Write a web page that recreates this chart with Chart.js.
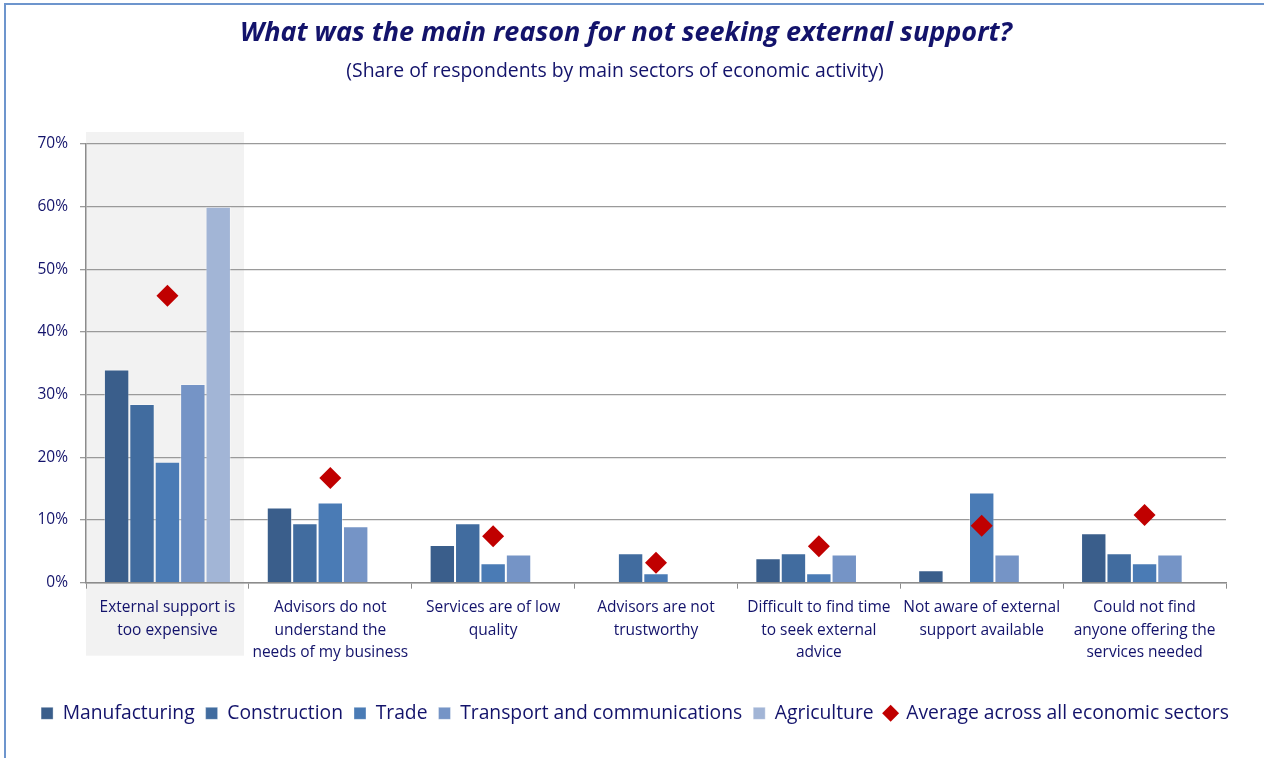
<!DOCTYPE html>
<html>
<head>
<meta charset="utf-8">
<title>Reasons for not seeking external support</title>
<script src="https://cdn.jsdelivr.net/npm/chart.js@4"></script>
<style>
    html, body { margin: 0; padding: 0; background: #fff; overflow: hidden; }
    #wrap { position: absolute; left: 0; top: 0; width: 1264px; height: 758px; }
    #frame {
        position: absolute; left: 4px; top: 3px; width: 1300px; height: 800px;
        border-left: 2px solid #6d95cd; border-top: 2px solid #6d95cd;
        pointer-events: none;
    }
</style>
</head>
<body>
<div id="wrap">
    <canvas id="reasonsChart" width="1264" height="758"></canvas>
    <div id="frame"></div>
</div>
<script>
// Survey data (share of respondents, %)
const reasons = [
    ['External support is', 'too expensive'],
    ['Advisors do not', 'understand the', 'needs of my business'],
    ['Services are of low', 'quality'],
    ['Advisors are not', 'trustworthy'],
    ['Difficult to find time', 'to seek external', 'advice'],
    ['Not aware of external', 'support available'],
    ['Could not find', 'anyone offering the', 'services needed']
];
const manufacturing = [34.0, 12.0, 6.0, null, 3.9, 2.0, 7.9];
const construction  = [28.5, 9.5, 9.5, 4.7, 4.7, null, 4.7];
const trade         = [19.3, 12.8, 3.1, 1.5, 1.5, 14.4, 3.1];
const transport     = [31.7, 9.0, 4.5, null, 4.5, 4.5, 4.5];
const agriculture   = [60.0, null, null, null, null, null, null];
const average       = [45.8, 16.7, 7.4, 3.2, 5.8, 9.1, 10.8];
const yTicks = [0, 10, 20, 30, 40, 50, 60, 70];

const navy = '#13136b';
const font = "'Open Sans', 'Noto Sans', sans-serif";

// Grey panel behind the first category
const highlightFirst = {
    id: 'highlightFirst',
    beforeDraw(chart) {
        const { ctx, chartArea } = chart;
        const step = (chartArea.right - chartArea.left) / reasons.length;
        ctx.save();
        ctx.fillStyle = '#f2f2f2';
        ctx.fillRect(chartArea.left, chartArea.top - 12, step * 0.97, chartArea.bottom - chartArea.top + 85);
        ctx.restore();
    }
};

// Heading and sub-heading, drawn in the space reserved by layout.padding.top
const heading = {
    id: 'heading',
    afterDraw(chart) {
        const ctx = chart.ctx;
        ctx.save();
        ctx.fillStyle = navy;
        ctx.textAlign = 'center';
        ctx.textBaseline = 'middle';
        ctx.font = `italic bold 27px ${font}`;
        ctx.fillText('What was the main reason for not seeking external support?', 626, 33);
        ctx.font = `19.4px ${font}`;
        ctx.fillText('(Share of respondents by main sectors of economic activity)', 615, 71);
        ctx.restore();
    }
};

function bar(label, data, color) {
    return {
        type: 'bar',
        label: label,
        data: data,
        backgroundColor: color,
        borderColor: 'rgba(255,255,255,0.35)',
        borderWidth: 1,
        pointStyle: 'rect',
        order: 1
    };
}

new Chart(document.getElementById('reasonsChart'), {
    data: {
        labels: reasons,
        datasets: [
            bar('Manufacturing', manufacturing, '#3a5e8b'),
            bar('Construction', construction, '#416c9f'),
            bar('Trade', trade, '#4a7bb5'),
            bar('Transport and communications', transport, '#7594c6'),
            bar('Agriculture', agriculture, '#a2b5d6'),
            {
                type: 'line',
                label: 'Average across all economic sectors',
                data: average,
                showLine: false,
                pointStyle: 'rectRot',
                pointRadius: 11,
                pointHoverRadius: 11,
                backgroundColor: '#c00000',
                borderColor: '#c00000',
                borderWidth: 0,
                order: 0
            }
        ]
    },
    options: {
        responsive: false,
        animation: false,
        layout: { padding: { left: 6, right: 0, top: 144, bottom: 25 } },
        datasets: {
            bar: { categoryPercentage: 0.78, barPercentage: 1 }
        },
        scales: {
            x: {
                grid: {
                    drawOnChartArea: false,
                    drawTicks: true,
                    tickLength: 6,
                    color: '#8c8c8c',
                    offset: true
                },
                border: { color: '#8c8c8c', width: 1.5 },
                ticks: {
                    color: navy,
                    font: { family: font, size: 15.5, lineHeight: 1.48 },
                    padding: 7,
                    maxRotation: 0,
                    autoSkip: false
                },
                afterFit(s) { s.height = 110; }
            },
            y: {
                min: 0,
                max: 70,
                afterBuildTicks(s) { s.ticks = yTicks.map(v => ({ value: v })); },
                grid: { color: '#9a9a9a', lineWidth: 1.3, tickLength: 6 },
                border: { color: '#8c8c8c', width: 1.5 },
                ticks: {
                    color: navy,
                    font: { family: font, size: 15.5 },
                    padding: 12,
                    callback: v => v + '%'
                },
                afterFit(s) { s.width = 80; }
            },
            // empty right-hand gutter so the legend can use the full width
            gutter: {
                type: 'linear',
                position: 'right',
                display: true,
                grid: { display: false },
                border: { display: false },
                ticks: { display: false },
                afterFit(s) { s.width = 38; }
            }
        },
        plugins: {
            title: { display: false },
            subtitle: { display: false },
            legend: {
                position: 'bottom',
                labels: {
                    usePointStyle: true,
                    boxWidth: 12,
                    boxHeight: 12,
                    color: navy,
                    padding: 11,
                    font: { family: font, size: 19.3 },
                    sort: (a, b) => a.datasetIndex - b.datasetIndex
                }
            },
            tooltip: { enabled: false }
        }
    },
    plugins: [highlightFirst, heading]
});
</script>
</body>
</html>
